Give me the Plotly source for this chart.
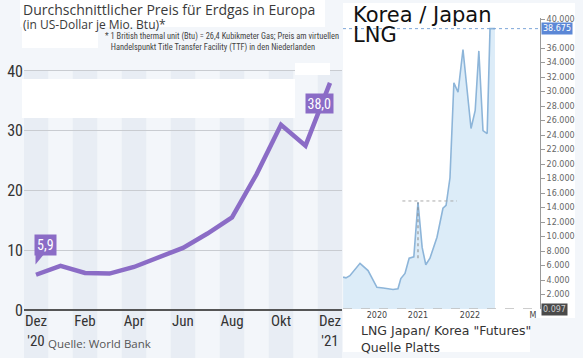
import plotly.graph_objects as go

W, H = 583, 358
def fx(p): return p / W
def fy(p): return 1 - p / H

# ---------------- Left chart data (Europe gas price, USD / MMBtu) ----------------
month_idx = [0, 1, 2, 3, 4, 5, 6, 7, 8, 9, 10, 11, 12]
month_ticks = [0, 2, 4, 6, 8, 10, 12]
month_labels = ["Dez<br>'20", "Feb", "Apr", "Jun", "Aug", "Okt", "Dez<br>'21"]
eu_price = [5.9, 7.4, 6.2, 6.1, 7.2, 8.9, 10.4, 12.8, 15.5, 22.7, 31.0, 27.5, 38.0]
eu_yticks = [0, 10, 20, 30, 40]

# ---------------- Right chart data (LNG Japan/Korea futures) ----------------
lng_year = [2019.56, 2019.615, 2019.69, 2019.885, 2020.04, 2020.21, 2020.33, 2020.52,
            2020.615, 2020.67, 2020.75, 2020.83, 2020.92, 2021.0, 2021.08, 2021.15,
            2021.23, 2021.365, 2021.48, 2021.54, 2021.615, 2021.69, 2021.77, 2021.865,
            2022.02, 2022.10, 2022.17, 2022.25, 2022.33, 2022.385, 2022.48]
lng_price = [4.4, 4.3, 4.6, 6.3, 5.3, 3.0, 2.9, 2.7,
             2.8, 4.2, 4.9, 7.0, 7.2, 14.7, 8.5, 6.1,
             7.0, 9.9, 13.9, 14.3, 18.1, 31.2, 29.9, 35.8,
             24.9, 27.4, 35.6, 24.6, 24.2, 38.675, 38.675]
lng_xticks = [2020.21, 2021.0, 2022.0, 2023.21]
lng_xlabels = ["2020", "2021", "2022", "M"]
lng_yticks = [2, 4, 6, 8, 10, 12, 14, 16, 18, 20, 22, 24, 26, 28, 30, 32, 34, 36, 40]
lng_last = 38.675
lng_low = 0.097

PURPLE = "#8b6cc6"
BG = "#f3f6fa"
BAND = "#e8edf4"
NARROW = "Liberation Sans Narrow, Roboto Condensed, Roboto, sans-serif"

fig = go.Figure()

fig.add_trace(go.Scatter(
    x=month_idx, y=eu_price, mode="lines",
    line=dict(color=PURPLE, width=4.5), xaxis="x", yaxis="y",
    hoverinfo="skip", showlegend=False))

fig.add_trace(go.Scatter(
    x=lng_year, y=lng_price, mode="lines", fill="tozeroy",
    fillcolor="#dcecf8", line=dict(color="#8db5d9", width=1.6),
    xaxis="x2", yaxis="y2", hoverinfo="skip", showlegend=False))

shapes = []
for m in month_ticks:
    shapes.append(dict(type="rect", xref="x", yref="paper", x0=m - 0.5, x1=m + 0.5,
                       y0=0, y1=fy(71), fillcolor=BAND, line=dict(width=0), layer="below"))
shapes.append(dict(type="rect", xref="paper", yref="paper", x0=fx(20), x1=fx(325), y0=fy(27), y1=fy(0),
                   fillcolor="white", line=dict(width=0), layer="below"))
shapes.append(dict(type="rect", xref="paper", yref="paper", x0=fx(22), x1=fx(98), y0=fy(48), y1=fy(27),
                   fillcolor="white", line=dict(width=0), layer="below"))
shapes.append(dict(type="rect", xref="paper", yref="paper", x0=fx(22), x1=fx(295), y0=fy(118), y1=fy(79),
                   fillcolor="white", line=dict(width=0), layer="below"))
shapes.append(dict(type="rect", xref="paper", yref="paper", x0=fx(295), x1=fx(330), y0=fy(75), y1=fy(63),
                   fillcolor="white", line=dict(width=0), layer="above"))
shapes.append(dict(type="rect", xref="paper", yref="paper", x0=fx(343), x1=fx(575), y0=fy(318), y1=fy(3),
                   fillcolor="white", line=dict(width=0), layer="below"))
shapes.append(dict(type="rect", xref="paper", yref="paper", x0=fx(343), x1=fx(530), y0=fy(352), y1=fy(318),
                   fillcolor="white", line=dict(width=0), layer="below"))
v0 = eu_price[0]
shapes.append(dict(type="path", xref="x", yref="y",
                   path=f"M {month_idx[0]-0.02},{v0+1.7} L {month_idx[0]-0.02},{v0+3.3} L {month_idx[0]+0.3},{v0+3.3} Z",
                   fillcolor=PURPLE, line=dict(width=0), layer="above"))
shapes.append(dict(type="line", xref="x2 domain", yref="y2", x0=0, x1=1, y0=0, y1=0,
                   line=dict(color="#bdbdbd", width=1.5, dash="dash"), layer="above"))
shapes.append(dict(type="line", xref="x2 domain", yref="y2", x0=0, x1=1, y0=lng_last, y1=lng_last,
                   line=dict(color="#7ea6d8", width=1, dash="dot"), layer="above"))
spike_i = 13
shapes.append(dict(type="line", xref="x2", yref="y2", x0=lng_year[spike_i], x1=lng_year[spike_i],
                   y0=7.0, y1=lng_price[spike_i], line=dict(color="#888", width=1, dash="dot"), layer="above"))
shapes.append(dict(type="line", xref="x2", yref="y2", x0=2020.7, x1=2021.75,
                   y0=lng_price[spike_i] + 0.2, y1=lng_price[spike_i] + 0.2,
                   line=dict(color="#aaa", width=1, dash="dot"), layer="above"))

annotations = [
    dict(text="Durchschnittlicher Preis für Erdgas in Europa", xref="paper", yref="paper",
         x=fx(21), y=fy(9.5), xanchor="left", yanchor="middle", showarrow=False,
         font=dict(family="Open Sans", size=14, color="#3a3a3a")),
    dict(text="(in US-Dollar je Mio. Btu)*", xref="paper", yref="paper",
         x=fx(21), y=fy(24), xanchor="left", yanchor="middle", showarrow=False,
         font=dict(family="Open Sans", size=12, color="#3a3a3a")),
    dict(text="* 1 British thermal unit (Btu) = 26,4 Kubikmeter Gas; Preis am virtuellen<br>"
              "   Handelspunkt Title Transfer Facility (TTF) in den Niederlanden",
         xref="paper", yref="paper", x=fx(103), y=fy(42), xanchor="left", yanchor="middle",
         align="left", showarrow=False,
         font=dict(family=NARROW, size=8.4, color="#444")),
    dict(text="Quelle: World Bank", xref="paper", yref="paper",
         x=fx(46), y=fy(343), xanchor="left", yanchor="middle", showarrow=False,
         font=dict(family="Open Sans", size=11.5, color="#555")),
    dict(text=f"{eu_price[0]:.1f}".replace(".", ","), xref="x", yref="y",
         x=month_idx[0], y=eu_price[0], xanchor="left", yanchor="bottom", xshift=-2, yshift=19,
         showarrow=False, bgcolor=PURPLE, borderpad=2,
         font=dict(family=NARROW, size=14, color="white")),
    dict(text=f"{eu_price[-1]:.1f}".replace(".", ","), xref="x", yref="y",
         x=month_idx[-1], y=eu_price[-1], xanchor="right", yanchor="top", xshift=4, yshift=-10,
         showarrow=False, bgcolor=PURPLE, borderpad=1.5,
         font=dict(family=NARROW, size=14, color="white")),
    dict(text="Korea / Japan", xref="paper", yref="paper", x=fx(351), y=fy(15),
         xanchor="left", yanchor="middle", showarrow=False,
         font=dict(family="DejaVu Sans", size=21, color="#111")),
    dict(text="LNG", xref="paper", yref="paper", x=fx(351), y=fy(35),
         xanchor="left", yanchor="middle", showarrow=False,
         font=dict(family="DejaVu Sans", size=21, color="#111")),
    dict(text="LNG Japan/ Korea \"Futures\"", xref="paper", yref="paper", x=fx(359), y=fy(330),
         xanchor="left", yanchor="middle", showarrow=False,
         font=dict(family="DejaVu Sans", size=12.5, color="#333")),
    dict(text="Quelle Platts", xref="paper", yref="paper", x=fx(359), y=fy(347),
         xanchor="left", yanchor="middle", showarrow=False,
         font=dict(family="DejaVu Sans", size=12.5, color="#333")),
    dict(text=f"{lng_last:.3f}", xref="paper", yref="y2", x=fx(541), y=lng_last,
         xanchor="left", yanchor="middle", showarrow=False, bgcolor="#5b87d6", borderpad=1,
         font=dict(family="DejaVu Sans", size=8, color="white")),
    dict(text=f"{lng_low:.3f}", xref="paper", yref="y2", x=fx(541), y=lng_low,
         xanchor="left", yanchor="top", yshift=5, showarrow=False, bgcolor="#4a4a4a", borderpad=1,
         font=dict(family="DejaVu Sans", size=8, color="#cfcfcf")),
]

fig.update_layout(
    width=W, height=H, margin=dict(l=0, r=0, t=0, b=0),
    paper_bgcolor=BG, plot_bgcolor="rgba(0,0,0,0)",
    shapes=shapes, annotations=annotations, showlegend=False,
    xaxis=dict(domain=[fx(24), fx(342)], range=[-0.49, 12.49], tickmode="array",
               tickvals=month_ticks, ticktext=month_labels, showgrid=False, zeroline=False,
               showline=False, ticks="", fixedrange=True, automargin=False,
               tickfont=dict(family=NARROW, size=15, color="#333")),
    yaxis=dict(domain=[fy(310), fy(65)], range=[0, 41], tickmode="array", tickvals=eu_yticks,
               showgrid=True, gridcolor="#c9ccd1", gridwidth=1, zeroline=True, automargin=False,
               zerolinecolor="#555", zerolinewidth=1.5, showline=False, ticks="",
               tickfont=dict(family=NARROW, size=16, color="#333")),
    xaxis2=dict(domain=[fx(343), fx(540)], range=[2019.558, 2023.346], anchor="y2",
                tickmode="array", tickvals=lng_xticks, ticktext=lng_xlabels, showgrid=False,
                zeroline=False, showline=False, ticks="", automargin=False,
                tickfont=dict(family="DejaVu Sans", size=8, color="#444")),
    yaxis2=dict(domain=[fy(309), fy(18.3)], range=[0, 40.1], anchor="x2", side="right",
                tickmode="array", tickvals=lng_yticks, tickformat=".3f", showgrid=False,
                zeroline=False, showline=True, linecolor="#9a9a9a", linewidth=1, automargin=False,
                ticks="outside", ticklen=4, tickcolor="#9a9a9a",
                tickfont=dict(family="DejaVu Sans", size=8, color="#666")),
)

fig.write_html("out.html", config={"displayModeBar": False, "responsive": False},
               post_script="document.body.style.margin='0';document.body.style.overflow='hidden';"
                           "document.body.style.background='#f3f6fa';")
